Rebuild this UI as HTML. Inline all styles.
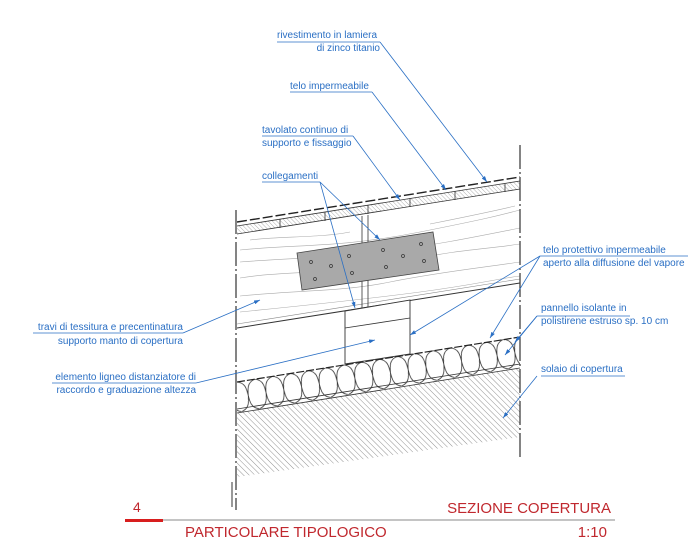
<!DOCTYPE html>
<html><head><meta charset="utf-8"><style>
html,body{margin:0;padding:0;background:#fff;}
svg{display:block;}
.l{font-family:"Liberation Sans",sans-serif;font-size:10px;fill:#2a6fc4;}
.r{font-family:"Liberation Sans",sans-serif;fill:#c0282e;}
</style></head><body>
<svg width="700" height="559" viewBox="0 0 700 559" xmlns="http://www.w3.org/2000/svg">
<defs>
<pattern id="h" width="4" height="4" patternUnits="userSpaceOnUse" patternTransform="rotate(-45)">
<line x1="0" y1="0" x2="0" y2="4" stroke="#777" stroke-width="0.8"/></pattern>
<pattern id="h2" width="3" height="3" patternUnits="userSpaceOnUse" patternTransform="rotate(-45)">
<line x1="0" y1="0" x2="0" y2="3" stroke="#777" stroke-width="0.6"/></pattern>
<pattern id="ins" width="18" height="30" patternUnits="userSpaceOnUse">
<path d="M0,0 C16,4 2,26 18,30 M18,0 C2,4 16,26 0,30" fill="none" stroke="#333" stroke-width="0.8"/></pattern>
<marker id="a" markerWidth="6" markerHeight="4" refX="6" refY="2" orient="auto" markerUnits="userSpaceOnUse"><path d="M0,0 L6,2 L0,4z" fill="#2a6fc4"/></marker>
<clipPath id="c"><rect x="237" y="0" width="283" height="559"/></clipPath>
</defs>
<g clip-path="url(#c)">
<polygon points="237,413 520,368 520,437 237,477" fill="url(#h)"/>
<g transform="translate(237,382) rotate(-9.1)">
<rect x="-10" y="0" width="310" height="30" fill="url(#ins)"/>
</g>
<line x1="237" y1="382" x2="520" y2="337" stroke="#222" stroke-width="1.2" stroke-dasharray="8,2"/>
<line x1="237" y1="409" x2="520" y2="364" stroke="#333" stroke-width="0.8"/>
<line x1="237" y1="413" x2="520" y2="368" stroke="#333" stroke-width="0.8"/>
<line x1="237" y1="328" x2="520" y2="283" stroke="#333" stroke-width="1"/>
<line x1="237" y1="324" x2="520" y2="279" stroke="#888" stroke-width="0.6"/>
<g stroke="#aaa" stroke-width="0.6" fill="none">
<path d="M240,250 C300,244 340,248 420,232 S500,215 520,210"/>
<path d="M240,262 C290,258 330,258 380,252 S470,238 520,228"/>
<path d="M240,278 C290,270 340,275 400,262 S480,250 520,244"/>
<path d="M240,296 C300,290 340,292 390,282 S480,268 520,262"/>
<path d="M240,312 C300,306 360,300 420,292 S490,280 520,276"/>
<path d="M250,240 C280,236 320,238 350,232"/>
<path d="M430,224 C460,218 490,212 515,206"/>
</g>
<polygon points="237,226 520,181 520,189 237,234" fill="url(#h2)"/>
<line x1="237" y1="222" x2="520" y2="177" stroke="#222" stroke-width="1.4" stroke-dasharray="10,3"/>
<line x1="237" y1="226" x2="520" y2="181" stroke="#333" stroke-width="0.8"/>
<line x1="237" y1="234" x2="520" y2="189" stroke="#333" stroke-width="0.8"/>
<g stroke="#333" stroke-width="0.8">
<line x1="280" y1="219" x2="280" y2="228"/><line x1="325" y1="212" x2="325" y2="221"/>
<line x1="368" y1="205" x2="368" y2="214"/><line x1="410" y1="198" x2="410" y2="207"/>
<line x1="455" y1="191" x2="455" y2="200"/><line x1="505" y1="183" x2="505" y2="192"/>
</g>
<line x1="362" y1="216" x2="362" y2="309" stroke="#333" stroke-width="0.8"/>
<line x1="368" y1="215" x2="368" y2="308" stroke="#333" stroke-width="0.8"/>
<polygon points="345,311 410,300 410,354 345,364" fill="#fff" stroke="#333" stroke-width="0.9"/>
<line x1="345" y1="328" x2="410" y2="318" stroke="#333" stroke-width="0.8"/>
<polygon points="297,253 433,232 439,270 302,290" fill="#a9a9a9" stroke="#444" stroke-width="0.8"/>
<g fill="none" stroke="#333" stroke-width="0.7">
<circle cx="311" cy="262" r="1.5"/><circle cx="331" cy="266" r="1.5"/><circle cx="349" cy="256" r="1.5"/>
<circle cx="315" cy="279" r="1.5"/><circle cx="352" cy="273" r="1.5"/><circle cx="383" cy="250" r="1.5"/>
<circle cx="403" cy="256" r="1.5"/><circle cx="421" cy="244" r="1.5"/><circle cx="386" cy="267" r="1.5"/>
<circle cx="424" cy="261" r="1.5"/></g>
</g>
<line x1="236" y1="210" x2="236" y2="510" stroke="#333" stroke-width="1.2" stroke-dasharray="24,3,2,3"/>
<line x1="520" y1="145" x2="520" y2="460" stroke="#333" stroke-width="1.2" stroke-dasharray="24,3,2,3"/>
<line x1="232" y1="482" x2="232" y2="507" stroke="#333" stroke-width="1"/>
<g class="l">
<text x="277" y="38">rivestimento in lamiera</text>
<text x="380" y="51" text-anchor="end">di zinco titanio</text>
<text x="290" y="89">telo impermeabile</text>
<text x="262" y="133">tavolato continuo di</text>
<text x="262" y="146">supporto e fissaggio</text>
<text x="262" y="179">collegamenti</text>
<text x="543" y="253">telo protettivo impermeabile</text>
<text x="543" y="266">aperto alla diffusione del vapore</text>
<text x="541" y="311">pannello isolante in</text>
<text x="541" y="324">polistirene estruso sp. 10 cm</text>
<text x="541" y="372">solaio di copertura</text>
<text x="183" y="330" text-anchor="end">travi di tessitura e precentinatura</text>
<text x="183" y="344" text-anchor="end">supporto manto di copertura</text>
<text x="196" y="380" text-anchor="end">elemento ligneo distanziatore di</text>
<text x="196" y="393" text-anchor="end">raccordo e graduazione altezza</text>
</g>
<g stroke="#2a6fc4" stroke-width="0.8" fill="none">
<path d="M277,42 H380"/><path d="M380,42 L487,182" marker-end="url(#a)"/>
<path d="M290,92 H372"/><path d="M372,92 L446,190" marker-end="url(#a)"/>
<path d="M262,136 H353"/><path d="M353,136 L400,200" marker-end="url(#a)"/>
<path d="M262,182 H320"/><path d="M320,182 L380,240" marker-end="url(#a)"/><path d="M320,182 L355,308" marker-end="url(#a)"/>
<path d="M688,256 H540"/><path d="M540,256 L410,335" marker-end="url(#a)"/><path d="M540,256 L490,338" marker-end="url(#a)"/>
<path d="M537,316 L505,355" marker-end="url(#a)"/><path d="M537,316 L515,342" marker-end="url(#a)"/>
<path d="M537,316 H630"/>
<path d="M541,376 H625"/><path d="M537,376 L503,418" marker-end="url(#a)"/>
<path d="M33,333 H183"/><path d="M183,333 L260,300" marker-end="url(#a)"/>
<path d="M52,383 H196"/><path d="M196,383 L375,340" marker-end="url(#a)"/>
</g>
<text class="r" x="133" y="512" font-size="14">4</text>
<rect x="125" y="519" width="38" height="3" fill="#d81e1e"/>
<line x1="163" y1="520" x2="615" y2="520" stroke="#888" stroke-width="1"/>
<text class="r" x="611" y="513" font-size="15" text-anchor="end">SEZIONE COPERTURA</text>
<text class="r" x="185" y="537" font-size="15">PARTICOLARE TIPOLOGICO</text>
<text class="r" x="607" y="537" font-size="15" text-anchor="end">1:10</text>
</svg>
</body></html>
